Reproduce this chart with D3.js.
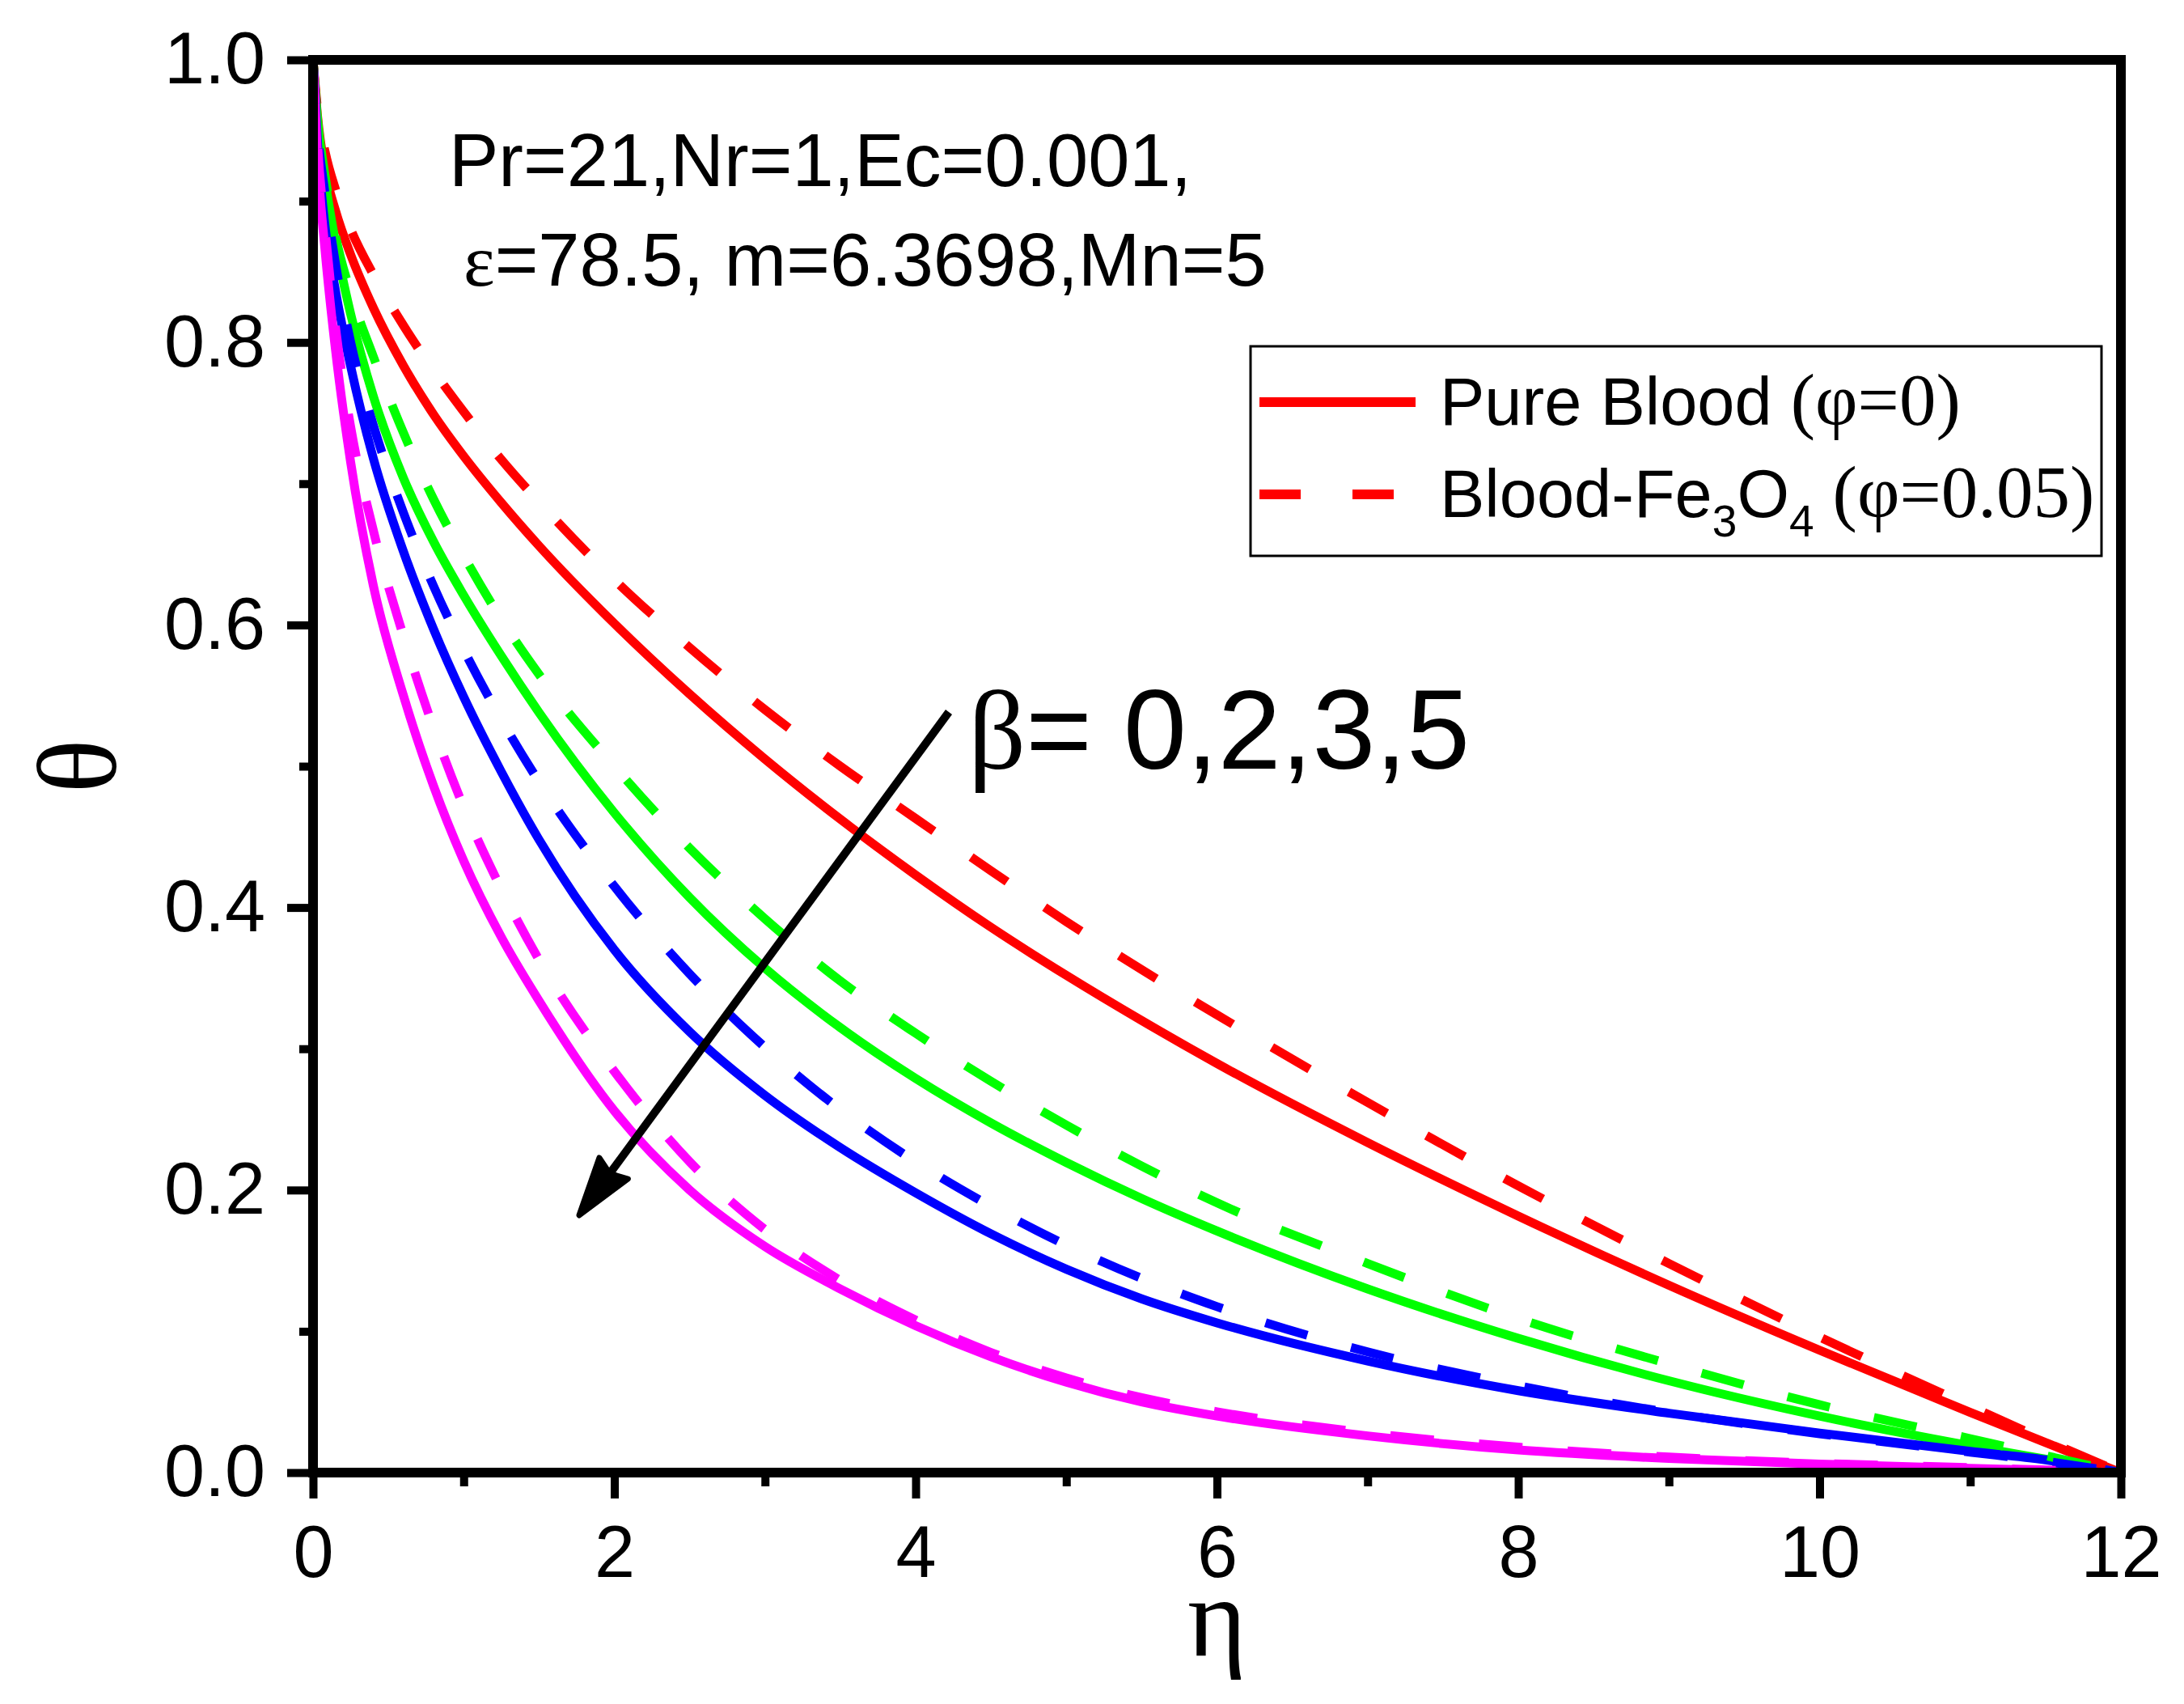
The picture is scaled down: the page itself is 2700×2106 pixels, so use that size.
<!DOCTYPE html>
<html>
<head>
<meta charset="utf-8">
<script src="https://cdn.jsdelivr.net/npm/d3@7"></script>
<style>
  body { margin: 0; background: #fff; }
  svg { display: block; }
  .tick text { font-family: "Liberation Sans", Arial, sans-serif; font-size: 90px; fill: #000; }
  .sans { font-family: "Liberation Sans", Arial, sans-serif; }
  .serif { font-family: "Liberation Serif", "Times New Roman", serif; }
</style>
</head>
<body>
<svg width="2700" height="2106"></svg>
<script>
const etaGrid = [0, 0.03, 0.08, 0.15, 0.25, 0.4, 0.6, 0.8, 1, 1.25, 1.5, 2, 2.5, 3, 3.5, 4, 4.5, 5, 5.5, 6, 7, 8, 9, 10, 11, 11.5, 12];

// pure blood (phi = 0), solid lines
const bloodBeta0 = [1, 0.96, 0.922, 0.893, 0.862, 0.8245, 0.7835, 0.749, 0.7195, 0.6865, 0.656, 0.601, 0.551, 0.505, 0.4625, 0.423, 0.386, 0.352, 0.320, 0.2896, 0.2336, 0.1816, 0.1326, 0.0866, 0.0426, 0.0213, 0];
const bloodBeta2 = [1, 0.958, 0.915, 0.870, 0.820, 0.762, 0.704, 0.659, 0.621, 0.578, 0.538, 0.467, 0.407, 0.357, 0.315, 0.279, 0.2475, 0.2195, 0.194, 0.171, 0.130, 0.095, 0.065, 0.040, 0.019, 0.0095, 0];
const bloodBeta3 = [1, 0.94, 0.882, 0.836, 0.783, 0.718, 0.652, 0.597, 0.549, 0.496, 0.448, 0.370, 0.312, 0.267, 0.230, 0.198, 0.169, 0.144, 0.123, 0.106, 0.079, 0.058, 0.042, 0.028, 0.015, 0.009, 0];
const bloodBeta5 = [1, 0.93, 0.865, 0.794, 0.715, 0.628, 0.550, 0.486, 0.433, 0.379, 0.334, 0.256, 0.200, 0.160, 0.130, 0.104, 0.082, 0.064, 0.050, 0.040, 0.026, 0.016, 0.010, 0.006, 0.003, 0.0015, 0];

// blood-Fe3O4 (phi = 0.05), dashed lines
const ferroBeta0 = [1, 0.965, 0.935, 0.908, 0.88, 0.848, 0.812, 0.780, 0.751, 0.717, 0.687, 0.632, 0.584, 0.540, 0.500, 0.463, 0.426, 0.390, 0.356, 0.324, 0.262, 0.203, 0.148, 0.096, 0.047, 0.023, 0];
const ferroBeta2 = [1, 0.958, 0.918, 0.875, 0.835, 0.790, 0.736, 0.689, 0.649, 0.604, 0.565, 0.500, 0.442, 0.392, 0.348, 0.311, 0.277, 0.246, 0.217, 0.191, 0.148, 0.109, 0.077, 0.048, 0.024, 0.012, 0];
const ferroBeta3 = [1, 0.95, 0.905, 0.855, 0.80, 0.7415, 0.6795, 0.6275, 0.5825, 0.533, 0.489, 0.415, 0.353, 0.301, 0.257, 0.220, 0.1885, 0.161, 0.1375, 0.1175, 0.0855, 0.0615, 0.0425, 0.0275, 0.0145, 0.008, 0];
const ferroBeta5 = [1, 0.94, 0.88, 0.81, 0.74, 0.667, 0.592, 0.527, 0.471, 0.413, 0.363, 0.284, 0.220, 0.172, 0.136, 0.108, 0.085, 0.067, 0.053, 0.043, 0.028, 0.018, 0.011, 0.0065, 0.0035, 0.0018, 0];

const xMajorTicks = [0, 2, 4, 6, 8, 10, 12];
const xMinorTicks = [1, 3, 5, 7, 9, 11];
const yMajorTicks = [0, 0.2, 0.4, 0.6, 0.8, 1.0];
const yMinorTicks = [0.1, 0.3, 0.5, 0.7, 0.9];

const lineColors = ["#ff0000", "#00ff00", "#0000ff", "#ff00ff"];

const svg = d3.select("svg");
const plotLeft = 387, plotRight = 2622, plotTop = 74, plotBottom = 1820;

const x = d3.scaleLinear().domain([0, 12]).range([plotLeft, plotRight]);
const y = d3.scaleLinear().domain([0, 1]).range([plotBottom, plotTop]);

const series = [
  { values: bloodBeta0, color: lineColors[0], dashed: false },
  { values: bloodBeta2, color: lineColors[1], dashed: false },
  { values: bloodBeta3, color: lineColors[2], dashed: false },
  { values: bloodBeta5, color: lineColors[3], dashed: false },
  { values: ferroBeta0, color: lineColors[0], dashed: true },
  { values: ferroBeta2, color: lineColors[1], dashed: true },
  { values: ferroBeta3, color: lineColors[2], dashed: true },
  { values: ferroBeta5, color: lineColors[3], dashed: true }
];

const line = d3.line()
  .x((d, i) => x(etaGrid[i]))
  .y(d => y(d))
  .curve(d3.curveMonotoneX);

svg.append("g")
  .selectAll("path")
  .data(series)
  .enter()
  .append("path")
  .attr("d", d => line(d.values))
  .attr("fill", "none")
  .attr("stroke", d => d.color)
  .attr("stroke-width", 11)
  .attr("stroke-linejoin", "round")
  .attr("stroke-dasharray", d => d.dashed ? "54,56" : null);

// axes: major ticks with labels, minor ticks without
svg.append("g")
  .attr("transform", `translate(0, ${plotBottom})`)
  .call(d3.axisBottom(x).tickValues(xMajorTicks).tickSize(32).tickPadding(33).tickFormat(d3.format("d")));
svg.append("g")
  .attr("transform", `translate(0, ${plotBottom})`)
  .call(d3.axisBottom(x).tickValues(xMinorTicks).tickSize(17).tickFormat(""));

svg.append("g")
  .attr("transform", `translate(${plotLeft}, 0)`)
  .call(d3.axisLeft(y).tickValues(yMajorTicks).tickSize(32).tickPadding(27).tickFormat(d3.format(".1f")));
svg.append("g")
  .attr("transform", `translate(${plotLeft}, 0)`)
  .call(d3.axisLeft(y).tickValues(yMinorTicks).tickSize(17).tickFormat(""));

svg.selectAll(".domain").remove();
svg.selectAll(".tick line").attr("stroke", "#000").attr("stroke-width", 10);

svg.append("rect")
  .attr("x", plotLeft)
  .attr("y", plotTop)
  .attr("width", plotRight - plotLeft)
  .attr("height", plotBottom - plotTop)
  .attr("fill", "none")
  .attr("stroke", "#000")
  .attr("stroke-width", 12);

// axis titles
svg.append("text")
  .attr("class", "serif")
  .attr("x", (plotLeft + plotRight) / 2)
  .attr("y", 2046)
  .attr("text-anchor", "middle")
  .attr("font-size", 140)
  .text("η");

svg.append("text")
  .attr("class", "serif")
  .attr("transform", `translate(143, ${(plotTop + plotBottom) / 2}) rotate(-90)`)
  .attr("text-anchor", "middle")
  .attr("font-size", 140)
  .text("θ");

// parameter note
svg.append("text")
  .attr("class", "sans")
  .attr("x", 555)
  .attr("y", 230)
  .attr("font-size", 92)
  .text("Pr=21,Nr=1,Ec=0.001,");

const note2 = svg.append("text")
  .attr("x", 573)
  .attr("y", 353)
  .attr("font-size", 92);
note2.append("tspan").attr("class", "serif").text("ε");
note2.append("tspan").attr("class", "sans").text("=78.5, m=6.3698,Mn=5");

// beta label with arrow
const betaText = svg.append("text")
  .attr("x", 1197)
  .attr("y", 950)
  .attr("font-size", 140);
betaText.append("tspan").attr("class", "serif").text("β");
betaText.append("tspan").attr("class", "sans").text("= 0,2,3,5");

const arrowFrom = [1173, 880], arrowTo = [716, 1502];
const ax = arrowTo[0] - arrowFrom[0], ay = arrowTo[1] - arrowFrom[1];
const alen = Math.hypot(ax, ay);
const ux = ax / alen, uy = ay / alen;
const headLen = 72, headHalf = 22;
const baseX = arrowTo[0] - ux * headLen, baseY = arrowTo[1] - uy * headLen;

svg.append("line")
  .attr("x1", arrowFrom[0]).attr("y1", arrowFrom[1])
  .attr("x2", baseX + ux * 10).attr("y2", baseY + uy * 10)
  .attr("stroke", "#000")
  .attr("stroke-width", 10);

svg.append("path")
  .attr("d", `M${arrowTo[0]},${arrowTo[1]} L${baseX - uy * headHalf},${baseY + ux * headHalf} L${baseX + ux * 8},${baseY + uy * 8} L${baseX + uy * headHalf},${baseY - ux * headHalf} Z`)
  .attr("fill", "#000")
  .attr("stroke", "#000")
  .attr("stroke-width", 7)
  .attr("stroke-linejoin", "round");

// legend
const legend = svg.append("g");
legend.append("rect")
  .attr("x", 1546).attr("y", 428)
  .attr("width", 1052).attr("height", 259)
  .attr("fill", "#fff")
  .attr("stroke", "#000")
  .attr("stroke-width", 3);

legend.append("line")
  .attr("x1", 1557).attr("x2", 1750)
  .attr("y1", 497).attr("y2", 497)
  .attr("stroke", lineColors[0])
  .attr("stroke-width", 12);

legend.append("line")
  .attr("x1", 1557).attr("x2", 1750)
  .attr("y1", 611).attr("y2", 611)
  .attr("stroke", lineColors[0])
  .attr("stroke-width", 12)
  .attr("stroke-dasharray", "51,64");

const leg1 = legend.append("text").attr("x", 1780).attr("y", 525);
leg1.append("tspan").attr("class", "sans").attr("font-size", 83).text("Pure Blood ");
leg1.append("tspan").attr("class", "serif").attr("font-size", 91).text("(φ=0)");

const leg2 = legend.append("text").attr("x", 1780).attr("y", 639);
leg2.append("tspan").attr("class", "sans").attr("font-size", 83).text("Blood-Fe");
leg2.append("tspan").attr("class", "sans").attr("font-size", 55).attr("dy", 24).text("3");
leg2.append("tspan").attr("class", "sans").attr("font-size", 83).attr("dy", -24).text("O");
leg2.append("tspan").attr("class", "sans").attr("font-size", 55).attr("dy", 24).text("4");
leg2.append("tspan").attr("class", "sans").attr("font-size", 83).attr("dy", -24).text(" ");
leg2.append("tspan").attr("class", "serif").attr("font-size", 91).text("(φ=0.05)");
</script>
</body>
</html>
